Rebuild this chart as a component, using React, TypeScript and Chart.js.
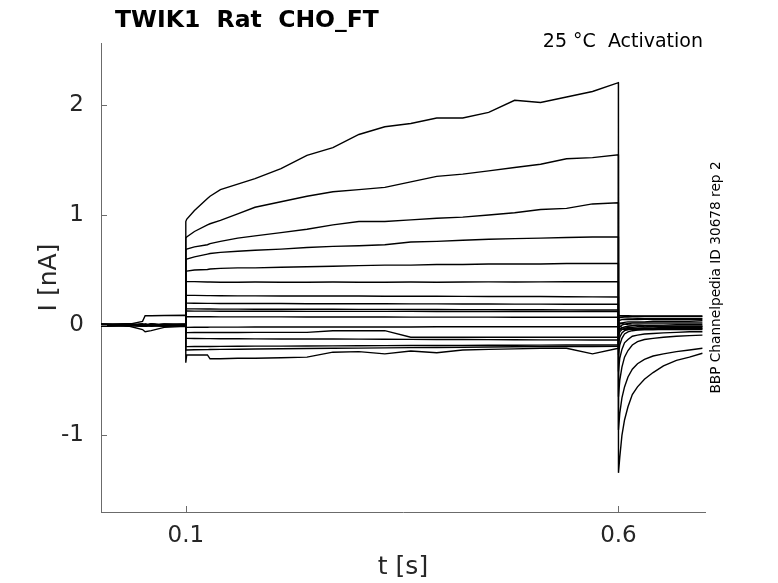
import { useEffect, useRef } from 'react';
import { Chart, registerables } from 'chart.js';

Chart.register(...registerables);

const TITLE = 'TWIK1  Rat  CHO_FT';
const CONDITION = '25 °C  Activation';
const SOURCE = 'BBP Channelpedia ID 30678 rep 2';
const X_LABEL = 't [s]';
const Y_LABEL = 'I [nA]';

const xTicks = [0.1, 0.6];
const yTicks = [-1, 0, 1, 2];

// time grid (s): holding, step, tail
const times = [
  0.002, 0.035, 0.05, 0.053, 0.06, 0.075, 0.0999,
  0.1, 0.101, 0.11, 0.125, 0.128, 0.14, 0.16, 0.18, 0.21, 0.24, 0.27, 0.3, 0.33, 0.36, 0.39, 0.42, 0.45, 0.48, 0.51, 0.54, 0.57, 0.5999,
  0.6, 0.6015, 0.604, 0.607, 0.611, 0.616, 0.622, 0.63, 0.64, 0.652, 0.667, 0.682, 0.697,
];

// current traces (nA), one per voltage step
const trace01 = [
  0.01, 0.0, 0.01, 0.0, 0.01, 0.0, 0.0,
  0.94, 0.96, 1.04, 1.15, 1.17, 1.23, 1.28, 1.33, 1.42, 1.54, 1.61, 1.73, 1.8, 1.83, 1.88, 1.88, 1.93, 2.04, 2.02, 2.07, 2.12, 2.2,
  -1.34, -1.2, -1.0, -0.86, -0.74, -0.63, -0.56, -0.49, -0.43, -0.37, -0.32, -0.29, -0.255,
];
const trace02 = [
  -0.01, 0.0, -0.01, 0.0, 0.0, -0.01, 0.0,
  0.79, 0.8, 0.85, 0.91, 0.92, 0.95, 1.01, 1.07, 1.12, 1.17, 1.21, 1.23, 1.25, 1.3, 1.35, 1.37, 1.4, 1.43, 1.46, 1.51, 1.52, 1.545,
  -0.95, -0.8, -0.66, -0.56, -0.47, -0.4, -0.35, -0.31, -0.28, -0.26, -0.24, -0.225, -0.21,
];
const trace03 = [
  0.0, 0.01, 0.0, 0.01, 0.0, 0.01, 0.01,
  0.68, 0.69, 0.71, 0.73, 0.74, 0.76, 0.79, 0.81, 0.84, 0.87, 0.91, 0.94, 0.94, 0.955, 0.97, 0.98, 1.0, 1.02, 1.05, 1.06, 1.1, 1.11,
  -0.65, -0.5, -0.38, -0.29, -0.23, -0.18, -0.15, -0.13, -0.12, -0.11, -0.1, -0.095, -0.09,
];
const trace04 = [
  0.0, -0.01, 0.0, -0.01, 0.0, 0.0, -0.01,
  0.59, 0.6, 0.62, 0.645, 0.65, 0.66, 0.67, 0.68, 0.69, 0.705, 0.715, 0.72, 0.73, 0.755, 0.76, 0.77, 0.78, 0.785, 0.79, 0.795, 0.8, 0.8,
  -0.42, -0.3, -0.22, -0.16, -0.13, -0.1, -0.09, -0.08, -0.075, -0.07, -0.065, -0.06, -0.06,
];
const trace05 = [
  0.01, 0.01, 0.0, 0.0, 0.01, 0.0, 0.0,
  0.485, 0.49, 0.5, 0.505, 0.51, 0.515, 0.52, 0.52, 0.525, 0.53, 0.535, 0.54, 0.545, 0.545, 0.55, 0.55, 0.555, 0.555, 0.555, 0.56, 0.56, 0.56,
  -0.27, -0.18, -0.12, -0.08, -0.06, -0.05, -0.045, -0.04, -0.04, -0.035, -0.035, -0.03, -0.03,
];
const trace06 = [
  -0.01, 0.0, 0.0, 0.01, 0.0, 0.0, 0.0,
  0.395, 0.395, 0.395, 0.392, 0.392, 0.39, 0.39, 0.391, 0.39, 0.39, 0.392, 0.39, 0.39, 0.391, 0.39, 0.392, 0.393, 0.392, 0.393, 0.394, 0.394, 0.395,
  -0.17, -0.11, -0.07, -0.05, -0.04, -0.03, -0.03, -0.025, -0.025, -0.02, -0.02, -0.02, -0.02,
];
const trace07 = [
  0.0, 0.0, 0.01, 0.0, -0.01, 0.0, 0.01,
  0.274, 0.272, 0.27, 0.268, 0.268, 0.267, 0.266, 0.266, 0.265, 0.265, 0.264, 0.264, 0.263, 0.262, 0.262, 0.261, 0.26, 0.26, 0.26, 0.258, 0.257, 0.255,
  -0.1, -0.06, -0.04, -0.03, -0.02, -0.02, -0.015, -0.015, -0.01, -0.01, -0.01, -0.01, -0.01,
];
const trace08 = [
  0.0, 0.01, 0.0, 0.0, 0.0, 0.01, 0.0,
  0.2, 0.2, 0.199, 0.198, 0.198, 0.197, 0.197, 0.196, 0.196, 0.195, 0.195, 0.194, 0.194, 0.193, 0.193, 0.192, 0.192, 0.191, 0.191, 0.19, 0.19, 0.19,
  -0.06, -0.04, -0.025, -0.015, -0.01, -0.005, 0.0, 0.0, 0.0, 0.0, 0.005, 0.005, 0.005,
];
const trace09 = [
  -0.01, 0.0, -0.01, -0.01, 0.0, 0.0, 0.0,
  0.15, 0.149, 0.148, 0.147, 0.147, 0.146, 0.146, 0.145, 0.145, 0.144, 0.144, 0.143, 0.143, 0.142, 0.142, 0.141, 0.141, 0.14, 0.14, 0.139, 0.138, 0.138,
  -0.03, -0.015, 0.0, 0.01, 0.015, 0.02, 0.02, 0.02, 0.02, 0.02, 0.02, 0.02, 0.02,
];
const trace10 = [
  0.0, 0.0, 0.0, 0.0, -0.01, 0.0, 0.0,
  0.128, 0.128, 0.127, 0.127, 0.127, 0.126, 0.126, 0.126, 0.126, 0.125, 0.125, 0.125, 0.125, 0.125, 0.124, 0.124, 0.124, 0.124, 0.124, 0.124, 0.124, 0.124,
  0.0, 0.01, 0.02, 0.025, 0.03, 0.03, 0.03, 0.03, 0.035, 0.035, 0.035, 0.035, 0.04,
];
const trace11 = [
  0.0, 0.01, 0.035, 0.085, 0.085, 0.088, 0.09,
  0.077, 0.077, 0.076, 0.076, 0.076, 0.075, 0.075, 0.075, 0.075, 0.074, 0.074, 0.074, 0.074, 0.073, 0.073, 0.073, 0.073, 0.072, 0.072, 0.072, 0.072, 0.072,
  0.04, 0.045, 0.05, 0.05, 0.05, 0.052, 0.052, 0.053, 0.053, 0.053, 0.053, 0.053, 0.053,
];
const trace12 = [
  0.01, 0.0, 0.0, 0.0, 0.0, -0.01, 0.0,
  -0.02, -0.02, -0.019, -0.019, -0.018, -0.018, -0.018, -0.017, -0.017, -0.017, -0.016, -0.016, -0.016, -0.016, -0.015, -0.015, -0.015, -0.015, -0.014, -0.014, -0.014, -0.014,
  0.07, 0.07, 0.068, 0.066, 0.065, 0.064, 0.063, 0.062, 0.062, 0.062, 0.062, 0.062, 0.062,
];
const trace13 = [
  0.0, -0.01, -0.04, -0.06, -0.05, -0.02, -0.01,
  -0.068, -0.068, -0.067, -0.067, -0.066, -0.066, -0.066, -0.065, -0.065, -0.065, -0.05, -0.05, -0.05, -0.11, -0.11, -0.11, -0.11, -0.11, -0.11, -0.11, -0.11, -0.11,
  0.085, 0.085, 0.082, 0.08, 0.08, 0.08, 0.08, 0.08, 0.08, 0.08, 0.08, 0.08, 0.08,
];
const trace14 = [
  0.0, 0.0, 0.01, 0.0, 0.01, 0.0, 0.0,
  -0.12, -0.12, -0.121, -0.122, -0.122, -0.123, -0.123, -0.124, -0.125, -0.125, -0.126, -0.127, -0.128, -0.129, -0.13, -0.13, -0.131, -0.132, -0.133, -0.133, -0.134, -0.135,
  0.09, 0.088, 0.086, 0.085, 0.085, 0.084, 0.084, 0.083, 0.083, 0.083, 0.083, 0.083, 0.083,
];
const trace15 = [
  -0.01, 0.0, 0.0, -0.01, 0.0, -0.01, 0.0,
  -0.195, -0.195, -0.194, -0.193, -0.193, -0.192, -0.191, -0.19, -0.19, -0.189, -0.188, -0.187, -0.186, -0.185, -0.184, -0.183, -0.182, -0.182, -0.181, -0.18, -0.18, -0.18,
  0.02, 0.02, 0.015, 0.01, 0.005, 0.0, 0.0, -0.005, -0.005, -0.01, -0.01, -0.01, -0.01,
];
const trace16 = [
  0.0, 0.0, -0.01, 0.0, 0.0, 0.0, -0.01,
  -0.225, -0.225, -0.223, -0.222, -0.221, -0.22, -0.218, -0.216, -0.214, -0.212, -0.21, -0.208, -0.206, -0.204, -0.202, -0.2, -0.198, -0.196, -0.195, -0.194, -0.193, -0.192,
  0.0, -0.01, -0.02, -0.025, -0.03, -0.03, -0.03, -0.03, -0.03, -0.03, -0.03, -0.03, -0.03,
];
const trace17 = [
  0.0, 0.01, 0.0, -0.01, 0.01, 0.0, 0.0,
  -0.34, -0.27, -0.27, -0.27, -0.305, -0.305, -0.3, -0.3, -0.295, -0.29, -0.245, -0.24, -0.26, -0.235, -0.25, -0.225, -0.22, -0.215, -0.21, -0.21, -0.26, -0.21,
  -0.02, -0.03, -0.035, -0.04, -0.04, -0.04, -0.04, -0.04, -0.04, -0.04, -0.04, -0.04, -0.04,
];

const traces = [
  trace01, trace02, trace03, trace04, trace05, trace06, trace07, trace08, trace09,
  trace10, trace11, trace12, trace13, trace14, trace15, trace16, trace17,
];

const FONT = '"DejaVu Sans", sans-serif';
const AXIS = '#6b6b6b';
const TEXT = '#262626';

const decor = {
  id: 'decor',
  afterDraw(chart: Chart) {
    const { ctx, chartArea: a, scales } = chart;
    ctx.save();
    ctx.strokeStyle = AXIS;
    ctx.lineWidth = 1;
    ctx.beginPath();
    for (const v of yTicks) {
      const y = Math.round(scales.y.getPixelForValue(v)) + 0.5;
      ctx.moveTo(a.left, y);
      ctx.lineTo(a.left + 6, y);
    }
    for (const v of xTicks) {
      const x = Math.round(scales.x.getPixelForValue(v)) + 0.5;
      ctx.moveTo(x, a.bottom);
      ctx.lineTo(x, a.bottom - 6);
    }
    ctx.stroke();

    ctx.fillStyle = '#000';
    ctx.font = `bold 23.5px ${FONT}`;
    ctx.textAlign = 'left';
    ctx.textBaseline = 'alphabetic';
    ctx.fillText(TITLE, 115, 27);

    ctx.font = `19px ${FONT}`;
    ctx.textAlign = 'right';
    ctx.fillText(CONDITION, 703, 47);

    ctx.translate(716.5, (a.top + a.bottom) / 2);
    ctx.rotate(-Math.PI / 2);
    ctx.font = `13.7px ${FONT}`;
    ctx.textAlign = 'center';
    ctx.textBaseline = 'middle';
    ctx.fillText(SOURCE, 0, 0);
    ctx.restore();
  },
};

export default function App() {
  const canvasRef = useRef<HTMLCanvasElement>(null);

  useEffect(() => {
    document.body.style.margin = '0';
    if (!canvasRef.current) return;
    const chart = new Chart(canvasRef.current, {
      type: 'line',
      data: {
        datasets: traces.map((tr) => ({
          data: tr.map((v, i) => ({ x: times[i], y: v })),
          borderColor: '#000',
          borderWidth: 1.4,
          pointRadius: 0,
          tension: 0,
          fill: false,
        })),
      },
      options: {
        responsive: false,
        animation: false,
        events: [],
        layout: { padding: { left: 0, top: 43, right: 73, bottom: 0 } },
        plugins: { legend: { display: false }, tooltip: { enabled: false } },
        scales: {
          x: {
            type: 'linear',
            min: 0.002,
            max: 0.7,
            afterFit: (s) => { s.height = 71; },
            afterBuildTicks: (s) => { s.ticks = xTicks.map((v) => ({ value: v })); },
            grid: { display: false, drawTicks: false },
            border: { display: true, color: AXIS, width: 1 },
            ticks: { padding: 10, color: TEXT, font: { family: FONT, size: 23 }, maxRotation: 0 },
            title: { display: true, text: X_LABEL, color: TEXT, font: { family: FONT, size: 25, lineHeight: 1 }, padding: { top: 0, bottom: 3 } },
          },
          y: {
            type: 'linear',
            min: -1.695,
            max: 2.56,
            afterFit: (s) => { s.width = 101; },
            afterBuildTicks: (s) => { s.ticks = yTicks.map((v) => ({ value: v })); },
            grid: { display: false, drawTicks: false },
            border: { display: true, color: AXIS, width: 1 },
            ticks: { padding: 17, color: TEXT, font: { family: FONT, size: 23 } },
            title: { display: true, text: Y_LABEL, color: TEXT, font: { family: FONT, size: 25, lineHeight: 1 }, padding: { top: 37, bottom: 0 } },
          },
        },
      },
      plugins: [decor],
    });
    return () => chart.destroy();
  }, []);

  return <canvas ref={canvasRef} width={778} height={583} style={{ display: 'block' }} />;
}
